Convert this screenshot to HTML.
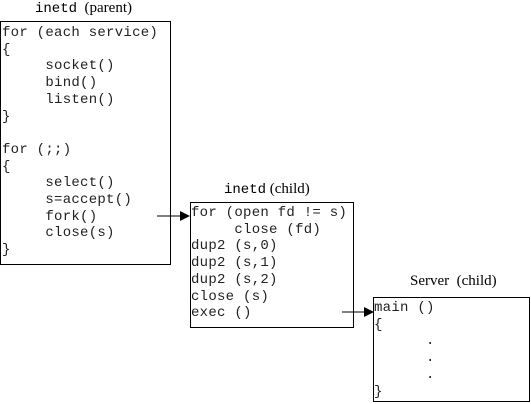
<!DOCTYPE html>
<html><head><style>
body{margin:0;width:531px;height:404px;background:#fff;position:relative;overflow:hidden}
.b{position:absolute;border:1px solid #000;box-sizing:border-box}
.m{position:absolute;font-family:"Liberation Mono",monospace;font-size:14px;letter-spacing:0.27px;line-height:16.7px;white-space:pre;color:#222}
.s{position:absolute;font-family:"Liberation Serif",serif;font-size:15px;white-space:pre;color:#000}
</style></head><body>
<div class="s" style="left:35px;top:0px"><span style="font-family:'Liberation Mono',monospace;font-size:14px">inetd</span>  (parent)</div>
<div class="b" style="left:0;top:21px;width:171px;height:244px"></div>
<div class="m" style="left:2px;top:25px">for (each service)
{
     socket()
     bind()
     listen()
}

for (;;)
{
     select()
     s=accept()
     fork()
     close(s)
}</div>
<div class="s" style="left:224px;top:181px"><span style="font-family:'Liberation Mono',monospace;font-size:14px">inetd</span> (child)</div>
<div class="b" style="left:190px;top:202px;width:164px;height:126px"></div>
<div class="m" style="left:191px;top:205px">for (open fd != s)
     close (fd)
dup2 (s,0)
dup2 (s,1)
dup2 (s,2)
close (s)
exec ()</div>
<div class="s" style="left:410px;top:273px">Server  (child)</div>
<div class="b" style="left:373px;top:297px;width:157px;height:105px"></div>
<div class="m" style="left:374px;top:300px">main ()
{
      .
      .
      .
}</div>
<svg style="position:absolute;left:0;top:0" width="531" height="404">
<line x1="157" y1="216" x2="182" y2="216" stroke="#000"/>
<polygon points="180,211 190,216 180,221" fill="#000"/>
<line x1="342" y1="312" x2="365" y2="312" stroke="#000"/>
<polygon points="364,307 374,312 364,317" fill="#000"/>
</svg>
</body></html>
